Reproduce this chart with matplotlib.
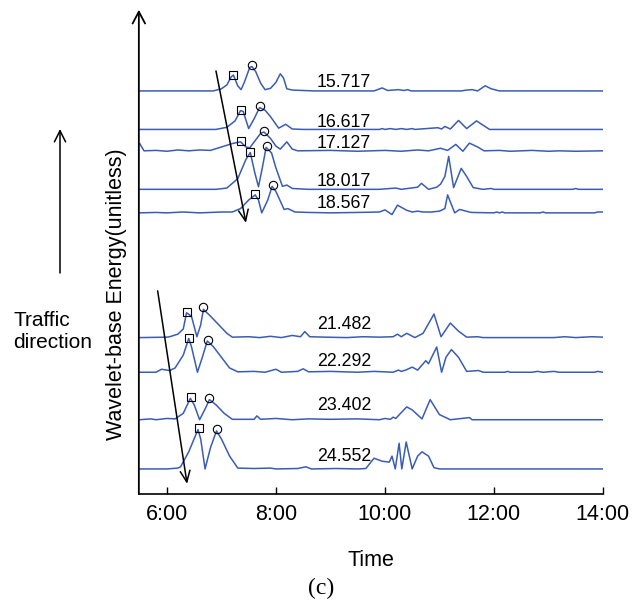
import matplotlib
matplotlib.use('Agg')
import matplotlib.pyplot as plt

out_file = 'out.png'

# milepost of each detector (also the vertical offset of its trace)
mileposts = [15.717, 16.617, 17.127, 18.017, 18.567, 21.482, 22.292, 23.402, 24.552]

# energy traces, time in hours, energy
t1 = [5.5, 6.85, 7.0, 7.1, 7.18, 7.22, 7.3, 7.36, 7.42, 7.52, 7.56, 7.63, 7.72, 7.8, 7.9, 8.0, 8.08, 8.14, 8.2, 8.3, 8.7,
      9.8, 9.95, 10.05, 10.25, 10.35, 10.42, 10.48, 11.4, 11.5, 11.6, 11.7, 11.84, 11.95, 12.1, 14.0]
e1 = [0, 0, 0.05, 0.14, 0.33, 0.37, 0.12, 0.03, 0.2, 0.55, 0.57, 0.45, 0.18, 0.03, 0.06, 0.2, 0.4, 0.3, 0.05, 0.02, 0,
      0, 0.07, 0.01, 0.03, 0.01, 0.03, 0, 0, 0.02, 0.03, 0.0, 0.12, 0.05, 0, 0]

t2 = [5.5, 6.9, 7.1, 7.25, 7.35, 7.4, 7.5, 7.6, 7.7, 7.8, 7.9, 8.05, 8.18, 8.3, 8.5,
      9.9, 9.95, 10.0, 10.1, 10.2, 10.3, 10.4, 10.5, 10.55, 10.97, 11.04, 11.1, 11.2, 11.35, 11.5, 11.68, 11.8, 11.92, 14.0]
e2 = [0, 0, 0.05, 0.2, 0.44, 0.42, 0.02, 0.25, 0.51, 0.45, 0.3, 0.03, 0.12, 0.01, 0,
      0, 0.02, 0, 0.02, 0, 0.02, 0, 0.02, 0, 0.04, 0.01, 0.07, 0.01, 0.21, 0.02, 0.2, 0.1, 0, 0]

t3 = [5.5, 5.58, 5.8, 6.0, 6.2, 6.4, 6.6, 6.8, 7.0, 7.2, 7.35, 7.45, 7.52, 7.62, 7.72, 7.78, 7.9, 8.0, 8.08, 8.2, 8.3,
      8.4, 9.0, 9.5, 10.0, 10.3, 10.6, 10.8, 11.02, 11.15, 11.3, 11.43, 11.55, 11.7, 11.82, 12.1, 12.3, 12.7, 13.0,
      13.2, 13.5, 14.0]
e3 = [0.18, 0.01, 0.02, 0.0, 0.03, 0.01, 0.03, 0.02, 0.1, 0.18, 0.22, 0.1, 0.08, 0.25, 0.42, 0.45, 0.3, 0.12, 0.05,
      0.22, 0.05, 0.01, 0.02, 0.0, 0.02, 0.0, 0.03, 0.01, 0.07, 0.02, 0.16, 0.0, 0.19, 0.1, 0.01, 0.02, 0, 0.02, 0,
      0.01, 0, 0.01]

t4 = [5.5, 6.9, 7.1, 7.3, 7.45, 7.53, 7.61, 7.68, 7.75, 7.82, 7.92, 8.0, 8.12, 8.2, 8.3, 8.6, 9.9, 10.1, 10.2,
      10.3, 10.6, 10.67, 10.8, 10.95, 11.02, 11.1, 11.17, 11.26, 11.4, 11.5, 11.62, 11.8, 11.95, 12.0, 13.45, 13.5,
      13.55, 14.0]
e4 = [0, 0, 0.03, 0.25, 0.7, 0.86, 0.4, 0.06, 0.5, 0.98, 0.85, 0.5, 0.07, 0.1, 0.02, 0, 0, 0.02, 0.03,
      0.0, 0.05, 0.14, 0, 0.05, 0.12, 0.3, 0.77, 0.04, 0.49, 0.3, 0.04, 0.0, 0.02, 0, 0, 0.02,
      0, 0]

t5 = [5.5, 5.8, 6.0, 6.3, 6.6, 7.0, 7.2, 7.35, 7.5, 7.62, 7.68, 7.74, 7.85, 7.93, 8.0, 8.15, 8.22, 8.35, 8.6, 9.0,
      9.5, 9.9, 10.0, 10.13, 10.23, 10.4, 10.5, 10.6, 10.7, 10.85, 11.0, 11.1, 11.15, 11.28, 11.37, 11.58, 12.0,
      12.05, 12.1, 12.15, 12.2, 12.85, 12.9, 12.95, 13.85, 13.9, 14.0]
e5 = [0, 0.01, 0.0, 0.02, 0.0, 0.02, 0.02, 0.1, 0.3, 0.42, 0.3, 0.0, 0.3, 0.62, 0.5, 0.08, 0.1, 0.02, 0.01, 0.0,
      0.01, 0.02, 0.07, -0.04, 0.18, 0.06, 0.02, 0.04, 0.02, 0.02, 0.04, 0.1, 0.42, 0.0, 0.08, 0.01, 0,
      0.02, 0, 0.02, 0, 0, 0.02, 0, 0, 0.02, 0.02]

t6 = [5.5, 6.0, 6.05, 6.2, 6.3, 6.36, 6.45, 6.55, 6.62, 6.67, 6.8, 6.95, 7.1, 7.2, 7.5, 7.7, 7.9, 8.1, 8.3, 8.45,
      8.53, 8.62, 8.9, 9.3, 9.6, 9.9, 10.15, 10.23, 10.3, 10.4, 10.55, 10.7, 10.9, 11.03, 11.2, 11.35, 11.5, 11.7,
      11.8, 13.1, 13.3, 13.5, 13.8, 14.0]
e6 = [0, 0.01, 0.02, 0.08, 0.2, 0.58, 0.5, 0.02, 0.3, 0.66, 0.5, 0.3, 0.1, 0.01, 0.02, 0.0, 0.03, 0.0, 0.05, 0.02,
      0.14, 0.02, 0.01, 0.0, 0.02, 0.01, 0.02, 0.08, 0.02, 0.1, 0.0, 0.1, 0.55, 0.02, 0.34, 0.15, 0.01, 0.02,
      0, 0, 0.02, 0.0, 0.02, 0.01]

t7 = [5.5, 5.8, 5.9, 6.05, 6.15, 6.3, 6.4, 6.45, 6.56, 6.65, 6.74, 6.85, 7.0, 7.15, 7.3, 7.6, 7.8, 8.0, 8.1, 8.4,
      8.5, 8.6, 9.0, 9.5, 9.8, 10.15, 10.25, 10.3, 10.38, 10.5, 10.6, 10.75, 10.8, 10.95, 11.04, 11.12, 11.22,
      11.35, 11.5, 11.72, 11.8, 12.2, 12.25, 12.3, 12.7, 12.8, 12.9, 13.1, 13.2, 13.85, 13.9, 14.0]
e7 = [0, 0.0, 0.07, 0.04, 0.1, 0.4, 0.79, 0.6, 0.0, 0.35, 0.73, 0.6, 0.35, 0.1, 0.01, 0.02, 0.0, 0.07, 0.0, 0.02,
      0.08, 0.01, 0.02, 0, 0.02, 0.0, 0.05, 0.02, 0.05, 0.12, 0.05, 0.27, 0.2, 0.59, 0.0, 0.35, 0.53,
      0.35, 0.02, 0.04, 0.0, 0.0, 0.02, 0, 0, 0.02, 0, 0.02, 0, 0, 0.02, 0]

t8 = [5.5, 5.7, 5.8, 6.0, 6.15, 6.3, 6.43, 6.5, 6.6, 6.7, 6.78, 6.9, 7.05, 7.2, 7.6, 7.65, 7.72, 8.0, 8.3, 8.6,
      9.0, 9.5, 9.9, 10.0, 10.1, 10.15, 10.2, 10.25, 10.4, 10.5, 10.68, 10.83, 11.0, 11.2, 11.55, 11.6, 14.0]
e8 = [0, 0.02, 0.0, 0.03, 0.02, 0.15, 0.5, 0.35, 0.0, 0.25, 0.47, 0.35, 0.15, 0.01, 0.01, 0.09, 0.01, 0.03, 0.0,
      0.02, 0.01, 0.02, 0.0, 0.03, 0.01, 0.06, 0.03, 0.1, 0.3, 0.23, 0.02, 0.47, 0.12, 0.0, 0.05, 0.0, 0]

t9 = [5.5, 6.0, 6.2, 6.25, 6.4, 6.57, 6.62, 6.7, 6.8, 6.91, 7.0, 7.15, 7.3, 7.6, 7.9, 8.0, 8.4, 8.55, 8.65, 9.1,
      9.5, 9.65, 9.8, 9.95, 10.08, 10.13, 10.19, 10.26, 10.31, 10.39, 10.5, 10.6, 10.68, 10.8, 10.9, 11.0, 14.0]
e9 = [0, 0.0, 0.02, 0.05, 0.4, 0.92, 0.7, 0.0, 0.5, 0.89, 0.7, 0.3, 0.02, 0.01, 0.02, 0.0, 0.01, 0.05, 0.0, 0.01,
      0.0, 0.01, 0.25, 0.18, 0.16, 0.3, 0.0, 0.6, 0.0, 0.63, 0.0, 0.3, 0.4, 0.3, 0.03, 0.0, 0]

times = [t1, t2, t3, t4, t5, t6, t7, t8, t9]
energies = [e1, e2, e3, e4, e5, e6, e7, e8, e9]

# first (square) and second (circle) peak of each trace
sq_t = [7.22, 7.36, 7.36, 7.53, 7.62, 6.36, 6.41, 6.44, 6.58]
sq_e = [0.38, 0.45, 0.23, 0.87, 0.43, 0.6, 0.8, 0.53, 0.95]
ci_t = [7.56, 7.7, 7.79, 7.83, 7.94, 6.67, 6.75, 6.78, 6.92]
ci_e = [0.61, 0.54, 0.48, 1.02, 0.65, 0.71, 0.76, 0.51, 0.93]

label_t = 9.25
label_off = [0.2, 0.17, 0.19, 0.19, 0.23, 0.3, 0.24, 0.33, 0.3]

# the two slanted arrows: (start, end) in (time, milepost)
arrow_start = [(6.9, 15.25), (5.83, 20.39)]
arrow_end = [(7.45, 18.8), (6.37, 24.9)]

xticks = [6, 8, 10, 12, 14]
xticklabels = ['6:00', '8:00', '10:00', '12:00', '14:00']

if __name__ == '__main__':
    plt.rcParams['font.family'] = ['Liberation Sans', 'DejaVu Sans']

    fig = plt.figure(figsize=(6.34, 6.10), dpi=100)
    ax = fig.add_axes([0.219, 0.19, 0.732, 0.794])

    line_col = '#3a5cb5'
    for mp, t, e in zip(mileposts, times, energies):
        ax.plot(t, [mp - v for v in e], color=line_col, lw=1.1, solid_joinstyle='round')

    for i, mp in enumerate(mileposts):
        ax.plot(sq_t[i], mp - sq_e[i], 's', ms=5.5, mfc='none', mec='k', mew=0.8)
        ax.plot(ci_t[i], mp - ci_e[i], 'o', ms=6, mfc='none', mec='k', mew=0.8)
        ax.text(label_t, mp - label_off[i], '%.3f' % mp, fontsize=12.8, ha='center', va='center')

    for s, e in zip(arrow_start, arrow_end):
        ax.annotate('', xy=e, xytext=s,
                    arrowprops=dict(arrowstyle='->, head_length=0.8, head_width=0.35', lw=1.1, color='k',
                                    shrinkA=0, shrinkB=0))

    ax.set_xlim(5.485, 14.0)
    ax.set_ylim(25.14, 13.82)

    for side in ['top', 'right', 'left']:
        ax.spines[side].set_visible(False)
    ax.spines['bottom'].set_linewidth(1.2)

    # y axis drawn as an arrow
    ax.annotate('', xy=(0, 1), xytext=(0, 0), xycoords='axes fraction',
                arrowprops=dict(arrowstyle='->, head_length=0.85, head_width=0.45', lw=1.3, color='k',
                                shrinkA=0, shrinkB=0))

    ax.set_yticks([])
    ax.set_xticks(xticks)
    ax.set_xticklabels(xticklabels)
    ax.tick_params(axis='x', direction='in', length=5, width=1, labelsize=15.5, pad=7)
    ax.set_xlabel('Time', fontsize=15.5, labelpad=18)

    fig.text(117 / 634, 1 - 294 / 610, 'Wavelet-base Energy(unitless)', rotation=90,
             fontsize=15.5, ha='center', va='center')
    fig.text(13 / 634, 1 - 331 / 610, 'Traffic\ndirection', fontsize=15, ha='left', va='center',
             linespacing=1.2)
    fig.text(321 / 634, 1 - 588 / 610, '(c)', fontsize=17, ha='center', va='center',
             family='Liberation Serif')

    # traffic direction arrow
    ax.annotate('', xy=(60 / 634, 1 - 129 / 610), xytext=(60 / 634, 1 - 273 / 610), xycoords='figure fraction',
                arrowprops=dict(arrowstyle='->, head_length=0.8, head_width=0.4', lw=1.1, color='k',
                                shrinkA=0, shrinkB=0))

    fig.savefig(out_file, dpi=100)
